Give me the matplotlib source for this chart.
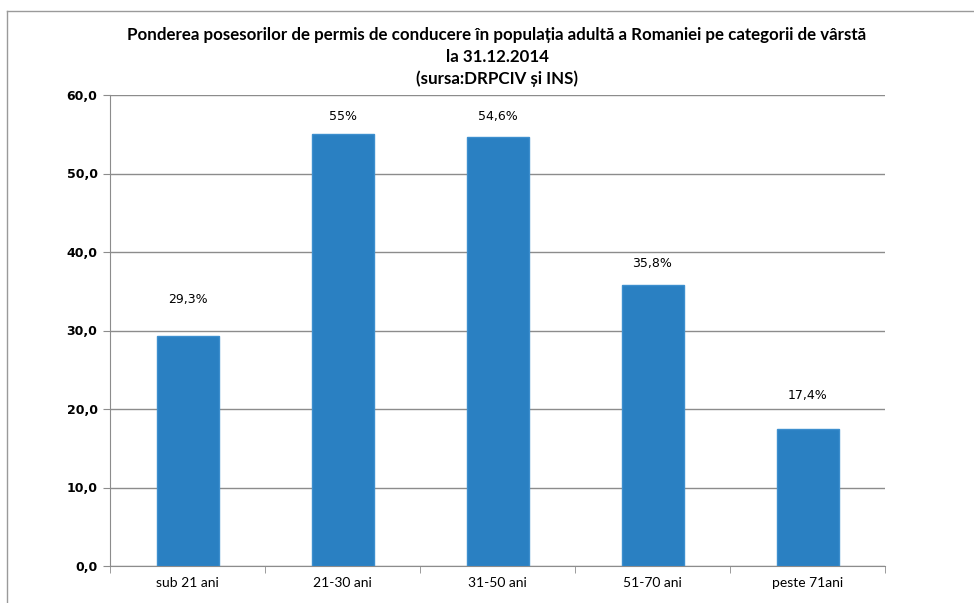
import matplotlib.pyplot as plt
from matplotlib.lines import Line2D
from matplotlib.ticker import FuncFormatter, FixedLocator

categories = ['sub 21 ani', '21-30 ani', '31-50 ani', '51-70 ani', 'peste 71ani']
values = [29.3, 55, 54.6, 35.8, 17.4]
label_offsets = [36, 18, 21, 21, 34]  # pixels above bar top, as in the original
yticks = [0, 10, 20, 30, 40, 50, 60]

title = ('Ponderea posesorilor de permis de conducere în populația adultă a Romaniei pe categorii de vârstă\n'
         'la 31.12.2014\n(sursa:DRPCIV și INS)')

fig = plt.figure(figsize=(9.74, 6.03), dpi=100)
W, H = 974, 603
ax = fig.add_axes([110 / W, 1 - 566 / H, 775 / W, 471 / H])

x = range(len(categories))
ax.bar(x, values, width=0.4, color='#2a80c2', edgecolor='#3d8fce', linewidth=1, zorder=3)

ax.set_xlim(-0.5, len(categories) - 0.5)
ax.set_ylim(0, 60)
ax.set_yticks(yticks)
ax.yaxis.set_major_formatter(FuncFormatter(lambda v, p: f'{v:.1f}'.replace('.', ',')))
ax.grid(axis='y', color='#8c8c8c', linewidth=1, zorder=0)

ax.set_xticks(list(x))
ax.set_xticklabels(categories, fontfamily='Lato', fontsize=10)
ax.xaxis.set_minor_locator(FixedLocator([i - 0.5 for i in range(len(categories) + 1)]))
ax.tick_params(axis='x', which='major', length=0, pad=8)
ax.tick_params(axis='x', which='minor', length=5, color='#8c8c8c', direction='out')
ax.tick_params(axis='y', length=5, color='#8c8c8c', direction='out', pad=4)
for lab in ax.get_yticklabels():
    lab.set_fontweight('bold')
    lab.set_fontsize(9)
    lab.set_fontfamily('DejaVu Sans')

for side in ['top', 'right']:
    ax.spines[side].set_visible(False)
for side in ['left', 'bottom']:
    ax.spines[side].set_color('#8c8c8c')

for xi, v, off in zip(x, values, label_offsets):
    txt = f'{v:g}'.replace('.', ',') + '%'
    ax.annotate(txt, (xi, v), xytext=(0, off), textcoords='offset pixels',
                ha='center', va='center', fontsize=9, fontfamily='DejaVu Sans')

fig.text(497 / W, 1 - 57 / H, title, ha='center', va='center', fontsize=12.2,
         fontweight='bold', fontfamily='Lato', linespacing=1.42)

# outer frame of the original chart area (cut off on right and bottom)
fig.add_artist(Line2D([7 / W, 1], [1 - 11 / H, 1 - 11 / H], transform=fig.transFigure,
                      color='#9a9a9a', linewidth=1))
fig.add_artist(Line2D([7 / W, 7 / W], [0, 1 - 11 / H], transform=fig.transFigure,
                      color='#9a9a9a', linewidth=1))

fig.savefig('out.png', dpi=100)
